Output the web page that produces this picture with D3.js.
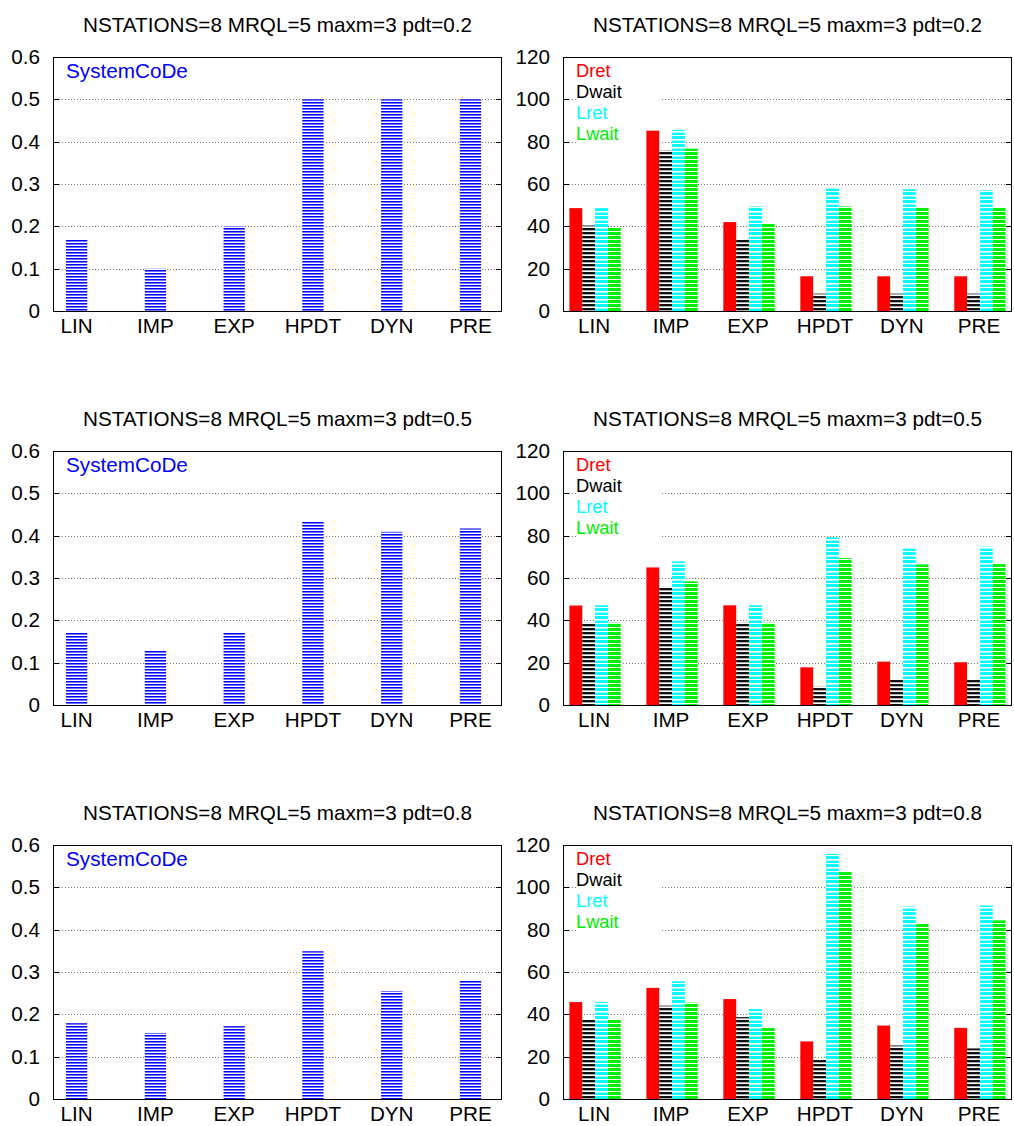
<!DOCTYPE html>
<html>
<head>
<meta charset="utf-8">
<script src="https://cdn.jsdelivr.net/npm/d3@7"></script>
<style>
  html, body { margin: 0; padding: 0; background: #fff; }
  svg { display: block; font-family: "Liberation Sans", Arial, Helvetica, sans-serif; }
</style>
</head>
<body>
<svg id="chart" width="1014" height="1126"></svg>
<script>
// Categories and run settings
const categories = ["LIN", "IMP", "EXP", "HPDT", "DYN", "PRE"];
const pdtValues = [0.2, 0.5, 0.8];

// SystemCoDe per pdt
const systemCoDe02 = [0.17, 0.10, 0.20, 0.50, 0.50, 0.50];
const systemCoDe05 = [0.172, 0.129, 0.172, 0.434, 0.409, 0.417];
const systemCoDe08 = [0.179, 0.156, 0.172, 0.349, 0.255, 0.279];

// Delay series per pdt
const dret02  = [48.6, 85.2, 42.0, 16.4, 16.4, 16.4];
const dwait02 = [40.4, 75.9, 33.9, 8.2, 8.2, 8.2];
const lret02  = [48.6, 85.5, 49.4, 58.1, 57.5, 57.0];
const lwait02 = [39.6, 76.7, 41.3, 49.4, 49.0, 49.0];

const dret05  = [47.0, 65.0, 47.1, 17.8, 20.5, 20.2];
const dwait05 = [38.9, 55.8, 38.9, 8.7, 12.3, 12.2];
const lret05  = [47.1, 67.8, 47.1, 79.2, 74.5, 74.8];
const lwait05 = [38.9, 58.4, 38.9, 69.4, 66.4, 66.9];

const dret08  = [45.8, 52.5, 47.2, 27.2, 34.7, 33.6];
const dwait08 = [37.5, 44.1, 38.7, 18.7, 25.3, 23.9];
const lret08  = [45.8, 55.6, 42.5, 115.8, 90.9, 91.4];
const lwait08 = [37.5, 45.5, 33.9, 107.2, 82.8, 84.4];

const leftTicks = [0, 0.1, 0.2, 0.3, 0.4, 0.5, 0.6];
const rightTicks = [0, 20, 40, 60, 80, 100, 120];
const seriesNames = ["Dret", "Dwait", "Lret", "Lwait"];

const rows = [
  { pdt: pdtValues[0], code: systemCoDe02, delays: [dret02, dwait02, lret02, lwait02] },
  { pdt: pdtValues[1], code: systemCoDe05, delays: [dret05, dwait05, lret05, lwait05] },
  { pdt: pdtValues[2], code: systemCoDe08, delays: [dret08, dwait08, lret08, lwait08] }
];

const svg = d3.select("#chart");
const defs = svg.append("defs");

// Striped fills
function stripes(id, period, bands) {
  const p = defs.append("pattern").attr("id", id)
    .attr("patternUnits", "userSpaceOnUse")
    .attr("width", 8).attr("height", period);
  p.append("rect").attr("width", 8).attr("height", period).attr("fill", "#fff");
  bands.forEach(b => p.append("rect").attr("x", 0).attr("y", b[0])
    .attr("width", 8).attr("height", b[1]).attr("fill", b[2]));
}
stripes("pBlue", 3, [[0, 1.6, "#0000ff"], [1.6, 0.4, "#8080ff"]]);
stripes("pBlack", 4, [[0, 2, "#111"], [2, 1, "#aaa"]]);
stripes("pCyan", 8, [[0, 3, "#00ffff"], [4, 1, "#9ff"], [5, 2, "#00ffff"]]);
stripes("pGreen", 4, [[0, 3, "#00ee00"]]);

const seriesFill = ["#ff0000", "url(#pBlack)", "url(#pCyan)", "url(#pGreen)"];
const seriesText = ["#ff0000", "#000000", "#00ffff", "#00ee00"];

const frameH = 254, rowStep = 394, top0 = 57;
const leftX = [53, 502], rightX = [563, 1012];
const FS = 20.7;
const KEY_FS = 18.3;

function drawFrame(g, x0, x1, y, ticks, fmt) {
  // dotted grid
  g.append("g").selectAll("line").data(ticks.slice(0, -1)).join("line")
    .attr("x1", x0).attr("x2", x1)
    .attr("y1", d => Math.round(y(d)) + 0.5).attr("y2", d => Math.round(y(d)) + 0.5)
    .attr("stroke", "#777").attr("stroke-width", 1).attr("stroke-dasharray", "1,2");
  // y axis labels
  const ax = d3.axisLeft(y).tickValues(ticks).tickFormat(fmt).tickSize(0).tickPadding(13);
  const a = g.append("g").attr("transform", `translate(${x0},0)`).call(ax);
  a.select(".domain").remove();
  a.selectAll("text").attr("font-size", FS).attr("fill", "#000")
    .attr("font-family", "Liberation Sans, Arial, sans-serif");
}

function drawBorder(g, x0, x1, y, ticks) {
  const [yb, yt] = y.range();
  g.append("g").selectAll("line").data(ticks).join("line")
    .attr("x1", x0).attr("x2", x0 + 6)
    .attr("y1", d => Math.round(y(d)) + 0.5).attr("y2", d => Math.round(y(d)) + 0.5)
    .attr("stroke", "#000");
  g.append("g").selectAll("line").data(ticks).join("line")
    .attr("x1", x1 - 6).attr("x2", x1)
    .attr("y1", d => Math.round(y(d)) + 0.5).attr("y2", d => Math.round(y(d)) + 0.5)
    .attr("stroke", "#000");
  g.append("rect").attr("x", x0 + 0.5).attr("y", yt + 0.5)
    .attr("width", x1 - x0 - 1).attr("height", yb - yt)
    .attr("fill", "none").attr("stroke", "#000").attr("stroke-width", 1);
}

function title(g, x0, x1, yt, pdt) {
  g.append("text").attr("x", (x0 + x1) / 2).attr("y", yt - 25)
    .attr("text-anchor", "middle").attr("font-size", FS).attr("fill", "#000")
    .text(`NSTATIONS=8 MRQL=5 maxm=3 pdt=${pdt}`);
}

rows.forEach((row, r) => {
  const yt = top0 + r * rowStep, yb = yt + frameH;

  // ---- left panel: SystemCoDe ----
  const gl = svg.append("g");
  const xl = d3.scaleLinear().domain([-0.3, 5.4]).range(leftX);
  const yl = d3.scaleLinear().domain([0, 0.6]).range([yb, yt]);
  title(gl, leftX[0], leftX[1], yt, row.pdt);
  drawFrame(gl, leftX[0], leftX[1], yl, leftTicks, d => d === 0 ? "0" : d.toFixed(1));
  const bw = 0.27;
  gl.append("g").selectAll("rect").data(row.code).join("rect")
    .attr("x", (d, i) => xl(i - bw / 2))
    .attr("width", xl(bw) - xl(0))
    .attr("y", d => yl(d)).attr("height", d => yl(0) - yl(d))
    .attr("fill", "url(#pBlue)");
  gl.append("g").selectAll("text").data(categories).join("text")
    .attr("x", (d, i) => xl(i)).attr("y", yb + 22)
    .attr("text-anchor", "middle").attr("font-size", FS).attr("fill", "#000")
    .text(d => d);
  gl.append("text").attr("x", leftX[0] + 13).attr("y", yt + 21)
    .attr("font-size", FS).attr("fill", "#0000ff").text("SystemCoDe");
  drawBorder(gl, leftX[0], leftX[1], yl, leftTicks);

  // ---- right panel: Dret / Dwait / Lret / Lwait ----
  const gr = svg.append("g");
  const xr = d3.scaleLinear().domain([-0.5, 34.5]).range(rightX);
  const yr = d3.scaleLinear().domain([0, 120]).range([yb, yt]);
  title(gr, rightX[0], rightX[1], yt, row.pdt);
  drawFrame(gr, rightX[0], rightX[1], yr, rightTicks, d => String(d));
  // opaque key area
  gr.append("rect").attr("x", rightX[0] + 13).attr("y", yt + 1)
    .attr("width", 86).attr("height", 94).attr("fill", "#fff");
  row.delays.forEach((vals, j) => {
    gr.append("g").selectAll("rect").data(vals).join("rect")
      .attr("x", (d, i) => xr(i * 6 + j))
      .attr("width", xr(1) - xr(0))
      .attr("y", d => yr(d)).attr("height", d => yr(0) - yr(d))
      .attr("fill", seriesFill[j]);
  });
  gr.append("g").selectAll("text").data(categories).join("text")
    .attr("x", (d, i) => xr(i * 6 + 2) - 1).attr("y", yb + 22)
    .attr("text-anchor", "middle").attr("font-size", FS).attr("fill", "#000")
    .text(d => d);
  gr.append("g").selectAll("text").data(seriesNames).join("text")
    .attr("x", rightX[0] + 13).attr("y", (d, j) => yt + 20 + j * 21.1)
    .attr("font-size", KEY_FS).attr("fill", (d, j) => seriesText[j])
    .text(d => d);
  drawBorder(gr, rightX[0], rightX[1], yr, rightTicks);
});
</script>
</body>
</html>
